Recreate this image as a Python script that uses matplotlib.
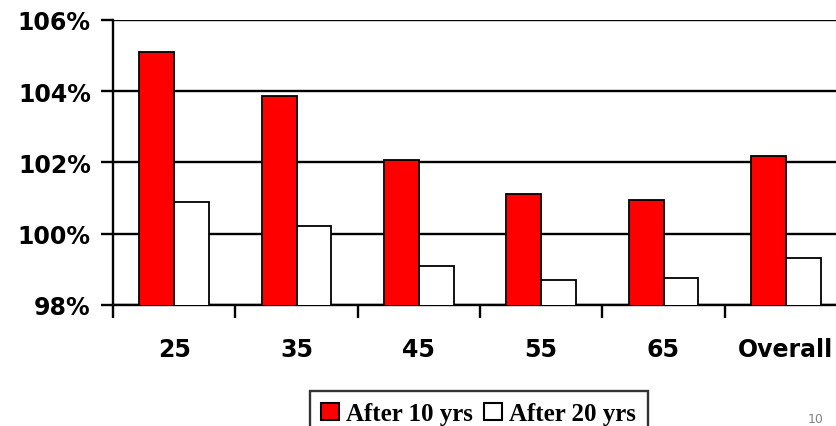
# plot.py
# relative value after 10 and 20 years, by starting age

import matplotlib.pyplot as plt
from matplotlib.patches import Patch
from matplotlib.ticker import FuncFormatter

ages = ['25', '35', '45', '55', '65', 'Overall']
after_10 = [105.09, 103.86, 102.06, 101.11, 100.94, 102.18]
after_20 = [100.89, 100.21, 99.08, 98.69, 98.75, 99.31]

fig = plt.figure(figsize=(8.36, 4.27), dpi=100)
ax = fig.add_axes([113 / 836, 1 - 306 / 427, 734 / 836, 285.3 / 427])

x = range(len(ages))
w = 0.286
ax.bar([i - w / 2 for i in x], after_10, w, bottom=0, color='#ff0000',
       edgecolor='black', linewidth=1.3, zorder=3)
ax.bar([i + w / 2 for i in x], after_20, w, bottom=0, color='white',
       edgecolor='black', linewidth=1.3, zorder=3)

ax.set_xlim(-0.5, len(ages) - 0.5)
ax.set_ylim(98, 106)
ax.set_yticks([98, 100, 102, 104, 106])
ax.yaxis.set_major_formatter(FuncFormatter(lambda v, p: '%d%%' % v))
ax.grid(axis='y', color='black', linewidth=1.7, zorder=0)
ax.set_axisbelow(True)

ax.set_xticks(list(x))
ax.set_xticklabels(ages)
ax.set_xticks([i - 0.5 for i in range(len(ages) + 1)], minor=True)
ax.tick_params(axis='x', which='major', length=0, pad=23)
ax.tick_params(axis='x', which='minor', length=9, width=1.7, direction='out')
ax.tick_params(axis='y', length=9, width=1.7, pad=7)

for lab in ax.get_xticklabels() + ax.get_yticklabels():
    lab.set_fontsize(17)
    lab.set_fontweight('bold')
    lab.set_family('DejaVu Sans')

for s in ['top', 'right']:
    ax.spines[s].set_visible(False)
ax.spines['left'].set_linewidth(1.7)
ax.spines['bottom'].set_linewidth(1.7)

handles = [Patch(facecolor='#ff0000', edgecolor='black', linewidth=1.5, label='After 10 yrs'),
           Patch(facecolor='white', edgecolor='black', linewidth=1.5, label='After 20 yrs')]
leg = fig.legend(handles=handles, loc='upper left', bbox_to_anchor=(310 / 836, 1 - 392 / 427),
                 ncol=2, frameon=True, fancybox=False, edgecolor='black',
                 handlelength=0.7, handleheight=0.65, handletextpad=0.3,
                 columnspacing=0.45, borderpad=0.45, borderaxespad=0,
                 prop={'family': 'Liberation Serif', 'weight': 'bold', 'size': 18})
leg.get_frame().set_linewidth(1.7)

fig.text(808 / 836, 0.003, '10', color='#808080', fontsize=9, va='bottom', ha='left')

fig.savefig('out.png', dpi=100)
